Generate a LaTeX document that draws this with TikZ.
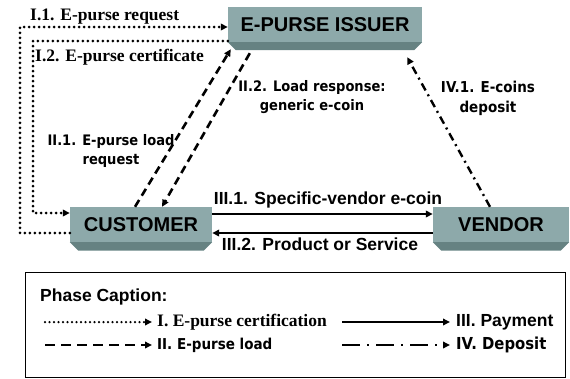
\documentclass[tikz,border=0pt]{standalone}
\usepackage{fontspec}
\setmainfont{Liberation Serif}
\newfontfamily\arialf{Liberation Sans}
\newfontfamily\tahf{DejaVu Sans}[FakeStretch=0.9]
\usetikzlibrary{arrows.meta,calc}
\definecolor{facec}{RGB}{141,169,170}
\definecolor{stripc}{RGB}{102,130,130}
\tikzset{
  face/.style={fill=facec, minimum height=35pt, inner sep=0pt,
    font=\arialf\bfseries\fontsize{20}{22}\selectfont},
  tipa/.style={-{Triangle[length=7pt,width=6.5pt]}},
  dotarr/.style={tipa, line width=3pt, dash pattern=on 0pt off 5pt, line cap=round},
  dasharr/.style={tipa, line width=2.6pt, dash pattern=on 8pt off 5pt},
  solidarr/.style={tipa, line width=2pt},
  dotdasharr/.style={tipa, line width=2.4pt, dash pattern=on 8pt off 4.5pt on 2pt off 4.5pt},
  serlab/.style={inner sep=0pt, font=\bfseries\fontsize{17.5}{20}\selectfont},
  tahlab/.style={inner sep=0pt, align=center, font=\tahf\bfseries\fontsize{14.5}{19}\selectfont},
  arlab/.style={inner sep=0pt, align=center, font=\arialf\bfseries\fontsize{17.5}{20}\selectfont},
}
\newcommand\mystrip[2]{\fill[stripc] (#1.south west) -- (#1.south east) -- ([shift={(-#2,-#2)}]#1.south east) -- ([shift={(#2,-#2)}]#1.south west) -- cycle;}
\begin{document}
\begin{tikzpicture}[x=1pt,y=-1pt]
\useasboundingbox (0,0) rectangle (570,378);
% boxes
\node[face, minimum width=194pt] (issuer) at (325,24.5) {E-PURSE ISSUER};
\mystrip{issuer}{8pt}
\node[face, minimum width=142pt] (customer) at (141,224.5) {CUSTOMER};
\mystrip{customer}{8.5pt}
\node[face, minimum width=136pt] (vendor) at (501,224.5) {VENDOR};
\mystrip{vendor}{8.5pt}
% phase I
\coordinate (c1) at (20,27);
\coordinate (c2) at (33,213);
\draw[dotarr] ([yshift=-8.5pt]customer.west) -| (c1) -- ([yshift=-2.5pt]issuer.west);
\draw[dotarr] ([yshift=-16.5pt]issuer.west) -| (c2) -- ([yshift=11.5pt]customer.west);
\node[serlab, anchor=west] (l11) at (30,17) {I.1. E-purse request};
\node[serlab, anchor=west] (l12) at (35,57) {I.2. E-purse certificate};
% phase II
\draw[dasharr] ([xshift=-6pt]customer.north) -- ([shift={(3pt,-7pt)}]issuer.south west);
\draw[dasharr] ([shift={(22pt,-11pt)}]issuer.south west) -- ([xshift=21pt]customer.north);
\node[tahlab] (l21) at (111,151) {II.1. E-purse load\\request};
\node[tahlab] (l22) at (312,97) {II.2. Load response:\\generic e-coin};
% phase III
\draw[solidarr] ([yshift=10.5pt]customer.east) -- ([yshift=10.5pt]vendor.west);
\draw[solidarr] ([yshift=-8.5pt]vendor.west) -- ([yshift=-8.5pt]customer.east);
\node[arlab] (l31) at (328,200) {III.1. Specific-vendor e-coin};
\node[arlab] (l32) at (320,244) {III.2. Product or Service};
% phase IV
\draw[dotdasharr] ([xshift=-11pt]vendor.north) -- ([shift={(-15pt,-15pt)}]issuer.south east);
\node[tahlab, font=\tahf\bfseries\fontsize{15}{20}\selectfont] (l41) at (488,98) {IV.1. E-coins\\deposit};
% legend
\draw[line width=1pt] (25,272) rectangle (565,377);
\node[arlab, anchor=west] (cap) at (40,297) {Phase Caption:};
\coordinate (a1) at (45,322); \coordinate (b1) at (152,322);
\coordinate (a2) at (45,345); \coordinate (b2) at (152,345);
\coordinate (a3) at (342,322); \coordinate (b3) at (450,322);
\coordinate (a4) at (342,345); \coordinate (b4) at (450,345);
\draw[dotarr, line width=2.5pt, dash pattern=on 0pt off 4.5pt] (a1) -- (b1);
\draw[dasharr, dash pattern=on 10pt off 6pt] (a2) -- (b2);
\draw[solidarr] (a3) -- (b3);
\draw[dotdasharr, dash pattern=on 18pt off 7pt on 2pt off 7pt] (a4) -- (b4);
\node[serlab, anchor=west] (t1) at (157,322) {I. E-purse certification};
\node[tahlab, anchor=west, font=\tahf\bfseries\fontsize{15}{18}\selectfont] (t2) at (157,345) {II. E-purse load};
\node[arlab, anchor=west] (t3) at (456,322) {III. Payment};
\node[tahlab, anchor=west, font=\tahf\bfseries\fontsize{16.5}{18}\selectfont] (t4) at (456,345) {IV. Deposit};
\end{tikzpicture}
\end{document}
